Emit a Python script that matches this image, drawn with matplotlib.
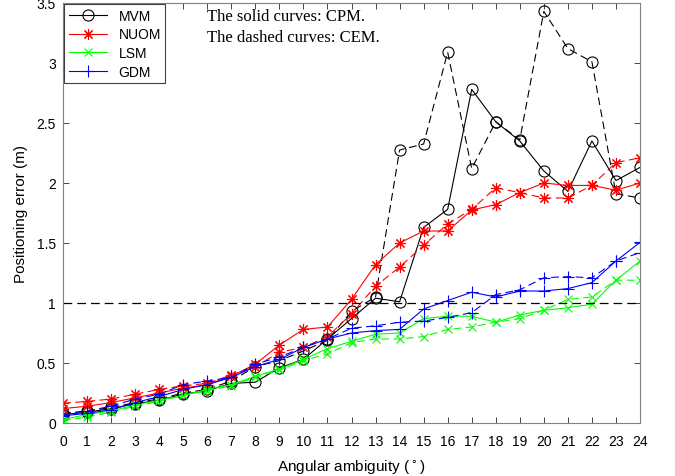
import matplotlib
matplotlib.use("Agg")
import matplotlib.pyplot as plt
import numpy as np

plt.rcParams['font.family'] = ['Liberation Sans', 'DejaVu Sans']

# angular ambiguity (degrees)
angles = list(range(25))

# CPM (solid) and CEM (dashed) positioning errors in metres
mvm_cpm = [0.07, 0.09, 0.12, 0.16, 0.19, 0.24, 0.27, 0.33, 0.34, 0.46, 0.53, 0.70, 0.87, 1.04, 1.01,
           1.63, 1.78, 2.78, 2.51, 2.35, 2.10, 1.93, 2.35, 2.02, 2.13]
mvm_cem = [0.08, 0.10, 0.13, 0.17, 0.20, 0.25, 0.28, 0.35, 0.47, 0.52, 0.60, 0.69, 0.93, 1.05, 2.275,
           2.325, 3.09, 2.12, 2.51, 2.36, 3.43, 3.12, 3.01, 1.91, 1.875]

nuom_cpm = [0.12, 0.14, 0.17, 0.21, 0.25, 0.29, 0.32, 0.39, 0.49, 0.65, 0.78, 0.80, 1.03, 1.32, 1.50,
            1.60, 1.60, 1.775, 1.82, 1.92, 2.00, 1.98, 1.98, 1.94, 2.00]
nuom_cem = [0.165, 0.18, 0.20, 0.24, 0.28, 0.31, 0.33, 0.40, 0.47, 0.59, 0.63, 0.72, 0.91, 1.14, 1.30,
            1.48, 1.66, 1.78, 1.96, 1.92, 1.875, 1.875, 1.98, 2.17, 2.21]

lsm_cpm = [0.03, 0.07, 0.10, 0.15, 0.19, 0.23, 0.28, 0.32, 0.39, 0.45, 0.53, 0.62, 0.68, 0.74, 0.75,
           0.87, 0.89, 0.89, 0.84, 0.90, 0.94, 0.96, 0.99, 1.19, 1.35]
lsm_cem = [0.02, 0.05, 0.09, 0.14, 0.18, 0.23, 0.27, 0.31, 0.38, 0.44, 0.52, 0.575, 0.67, 0.70, 0.70,
           0.72, 0.78, 0.80, 0.84, 0.87, 0.94, 1.03, 1.05, 1.19, 1.19]

gdm_cpm = [0.06, 0.08, 0.11, 0.17, 0.22, 0.28, 0.32, 0.38, 0.47, 0.53, 0.63, 0.70, 0.75, 0.77, 0.78,
           0.95, 1.02, 1.09, 1.05, 1.10, 1.10, 1.12, 1.17, 1.35, 1.505]
gdm_cem = [0.07, 0.10, 0.14, 0.20, 0.24, 0.32, 0.35, 0.38, 0.49, 0.55, 0.63, 0.70, 0.79, 0.81, 0.84,
           0.85, 0.88, 0.92, 1.07, 1.11, 1.21, 1.22, 1.21, 1.35, 1.42]

# MATLAB-like '*' marker: eight spokes
asterisk = (8, 2, 0)

series = [
    ('MVM', mvm_cpm, mvm_cem, 'o', 'black', dict(mfc='none', ms=8)),
    ('NUOM', nuom_cpm, nuom_cem, asterisk, 'red', dict(ms=8)),
    ('LSM', lsm_cpm, lsm_cem, 'x', '#00ff00', dict(ms=6)),
    ('GDM', gdm_cpm, gdm_cem, '+', 'blue', dict(ms=9)),
]

fig = plt.figure(figsize=(6.75, 4.77), dpi=100)
ax = fig.add_axes([63 / 675, 1 - 424 / 477, 577 / 675, 420 / 477])

for name, cpm, cem, marker, color, kw in series:
    ax.plot(angles, cpm, '-', marker=marker, color=color, lw=0.8, mew=0.8, label=name, **kw)
    ax.plot(angles, cem, '--', marker=marker, color=color, lw=0.8, mew=0.8, dashes=(7, 4), **kw)

ax.axhline(1, color='black', lw=0.9, ls='--', dashes=(7, 4))

ax.set_xlim(0, 24)
ax.set_ylim(0, 3.5)
ax.set_xticks(range(25))
ax.set_yticks([0, 0.5, 1, 1.5, 2, 2.5, 3, 3.5])
ax.set_yticklabels(['0', '0.5', '1', '1.5', '2', '2.5', '3', '3.5'])
ax.tick_params(direction='in', top=True, right=True, labelsize=10, length=4, color='#262626', width=0.6)
ax.tick_params(axis='x', pad=8)
ax.tick_params(axis='y', pad=5)
for s in ax.spines.values():
    s.set_color('#808080')
    s.set_linewidth(0.8)

ax.set_xlabel('Angular ambiguity ($^\\circ$)', fontsize=11, labelpad=7)
ax.set_ylabel('Positioning error (m)', fontsize=11, labelpad=6)

leg = ax.legend(loc='upper left', fontsize=10, fancybox=False, framealpha=1, edgecolor='#404040',
                borderaxespad=0.1, handlelength=2.8, borderpad=0.3, labelspacing=0.35)
leg.get_frame().set_linewidth(0.8)

fig.text(207 / 675, 1 - 17 / 477, 'The solid curves: CPM.', fontsize=12, va='center',
         family=['Liberation Serif', 'DejaVu Serif'])
fig.text(207 / 675, 1 - 38 / 477, 'The dashed curves: CEM.', fontsize=12, va='center',
         family=['Liberation Serif', 'DejaVu Serif'])

fig.savefig('out.png', dpi=100)
